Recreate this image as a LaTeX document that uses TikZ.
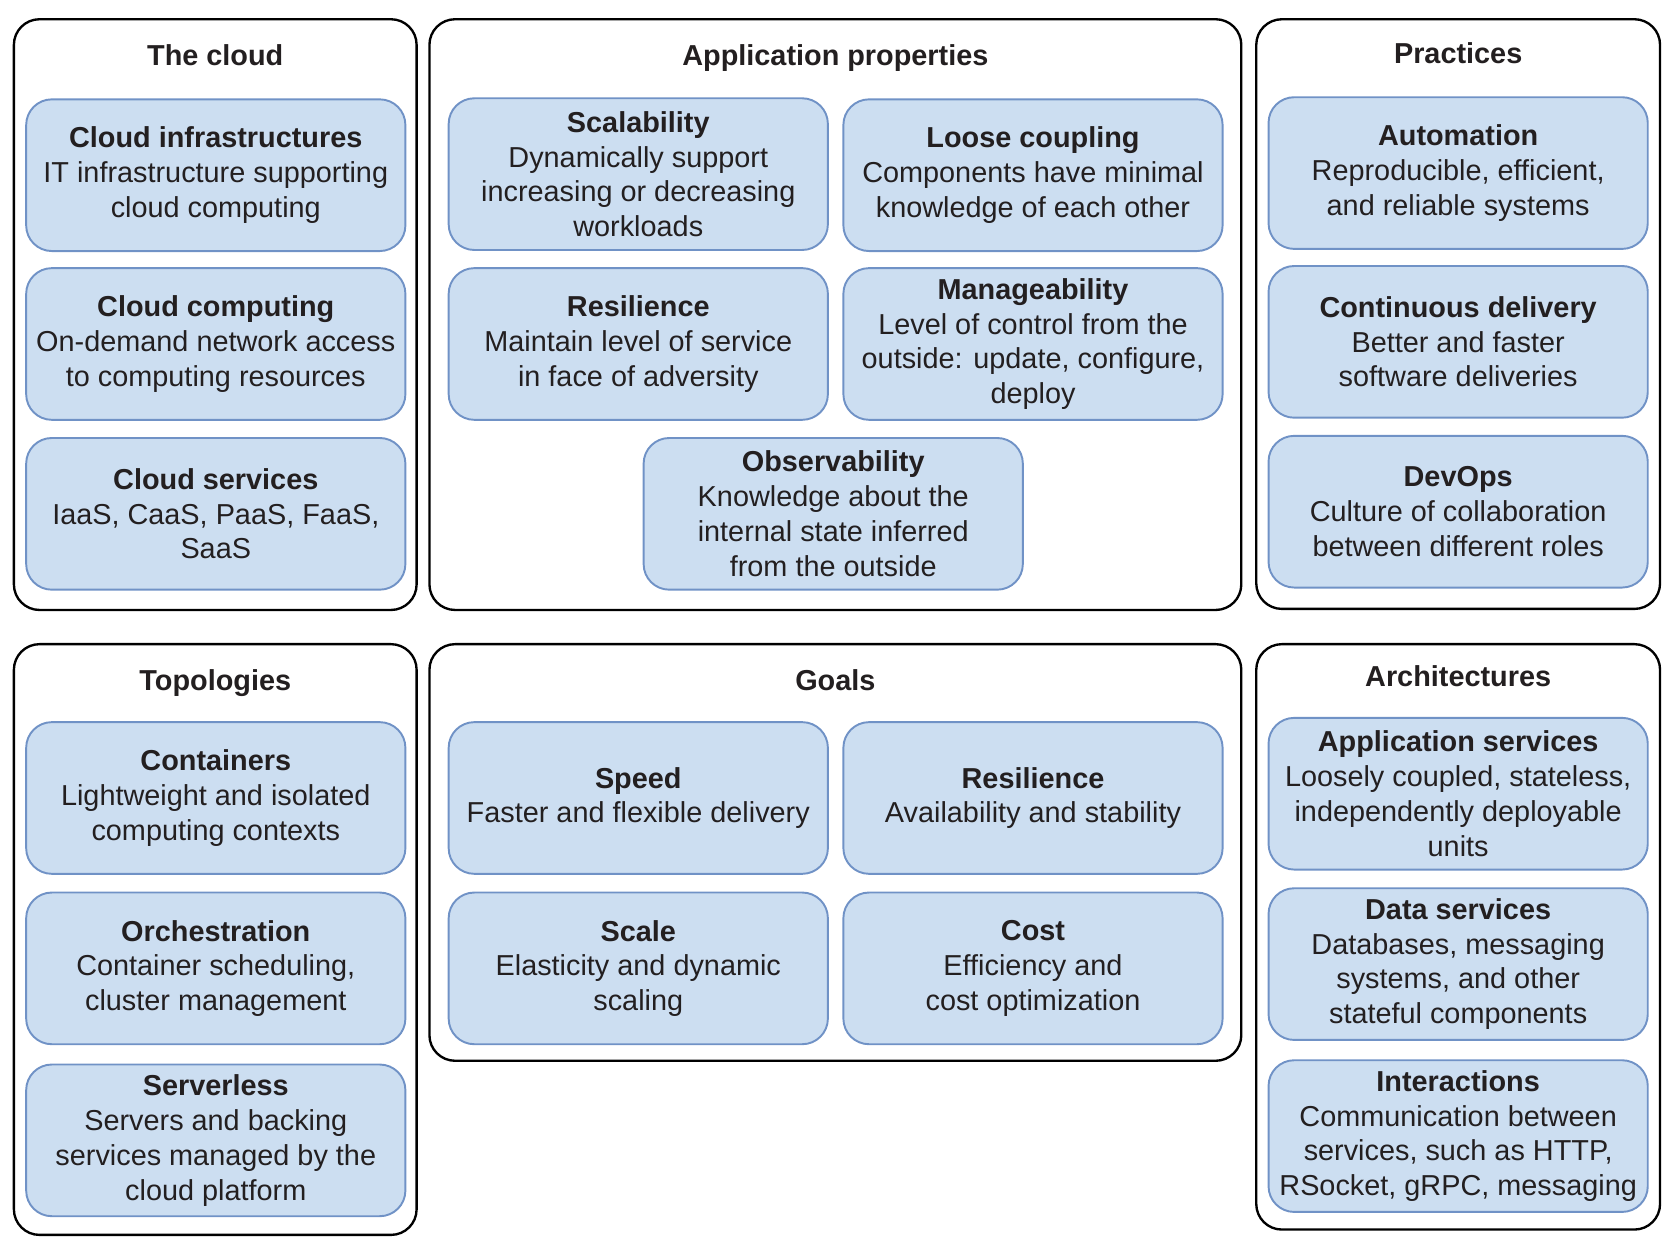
\documentclass[tikz,border=0pt]{standalone}
\usepackage{fontspec}
\setmainfont{Liberation Sans}
\definecolor{boxfill}{RGB}{204,222,241}
\definecolor{boxline}{RGB}{112,146,198}
\definecolor{ink}{RGB}{35,31,32}
\tikzset{
	panel/.style={draw=black, line width=1.1pt, rounded corners=12pt, inner sep=0pt},
	topic/.style={draw=boxline, fill=boxfill, line width=0.9pt, rounded corners=12pt,
		minimum width=177.5pt, minimum height=71pt, inner sep=1pt, align=center, text=ink},
	heading/.style={font=\fontsize{13.5}{16.5}\selectfont\bfseries, text=ink,
		text height=0.75em, text depth=0.22em}
}
\begin{document}
\begin{tikzpicture}[x=0.5pt, y=-0.5pt, font=\fontsize{13.5}{16.3}\selectfont]
		\useasboundingbox (0,0) rectangle (1568,1163);
		%panels
		\node[panel, minimum width=188.5pt, minimum height=276.5pt] (cloud) at (201.5,294.5){};
		\node[panel, minimum width=380pt, minimum height=276.5pt] (props) at (782,294.5){};
		\node[panel, minimum width=189pt, minimum height=276pt] (practices) at (1365,294){};
		\node[panel, minimum width=188.5pt, minimum height=276.5pt] (topologies) at (201.5,879.5){};
		\node[panel, minimum width=380pt, minimum height=195pt] (goals) at (782,798){};
		\node[panel, minimum width=189pt, minimum height=274pt] (archs) at (1365,877){};
		
		\node[heading] (cloudtitle) at (201.5,56){The cloud};
		\node[heading] (propstitle) at (782,56){Application properties};
		\node[heading] (practicestitle) at (1365,54){Practices};
		\node[heading] (topotitle) at (201.5,641){Topologies};
		\node[heading] (goalstitle) at (782,641){Goals};
		\node[heading] (archtitle) at (1365,637){Architectures};
		
		%the cloud
		\node[topic] (infra) at (202,164){\textbf{Cloud infrastructures}\\IT infrastructure supporting\\cloud computing};
		\node[topic] (computing) at (202,322){\textbf{Cloud computing}\\On-demand network access\\to computing resources};
		\node[topic] (services) at (202,481){\textbf{Cloud services}\\IaaS, CaaS, PaaS, FaaS,\\SaaS};
		
		%application properties
		\node[topic] (scalability) at (597.5,163){\textbf{Scalability}\\Dynamically support\\increasing or decreasing\\workloads};
		\node[topic] (coupling) at (967,164){\textbf{Loose coupling}\\Components have minimal\\knowledge of each other};
		\node[topic] (resilience) at (597.5,322){\textbf{Resilience}\\Maintain level of service\\in face of adversity};
		\node[topic] (manage) at (967,322){\textbf{Manageability}\\Level of control from the\\outside: update, configure,\\deploy};
		\node[topic] (observe) at (780,481){\textbf{Observability}\\Knowledge about the\\internal state inferred\\from the outside};
		
		%practices
		\node[topic] (automation) at (1365,162){\textbf{Automation}\\Reproducible, efficient,\\and reliable systems};
		\node[topic] (delivery) at (1365,320){\textbf{Continuous delivery}\\Better and faster\\software deliveries};
		\node[topic] (devops) at (1365,479){\textbf{DevOps}\\Culture of collaboration\\between different roles};
		
		%topologies
		\node[topic] (containers) at (202,747){\textbf{Containers}\\Lightweight and isolated\\computing contexts};
		\node[topic] (orchestration) at (202,906.5){\textbf{Orchestration}\\Container scheduling,\\cluster management};
		\node[topic] (serverless) at (202,1067.5){\textbf{Serverless}\\Servers and backing\\services managed by the\\cloud platform};
		
		%goals
		\node[topic] (speed) at (597.5,747){\textbf{Speed}\\Faster and flexible delivery};
		\node[topic] (goalres) at (967,747){\textbf{Resilience}\\Availability and stability};
		\node[topic] (scale) at (597.5,906.5){\textbf{Scale}\\Elasticity and dynamic\\scaling};
		\node[topic] (cost) at (967,906.5){\textbf{Cost}\\Efficiency and\\cost optimization};
		
		%architectures
		\node[topic] (appservices) at (1365,743){\textbf{Application services}\\Loosely coupled, stateless,\\independently deployable\\units};
		\node[topic] (dataservices) at (1365,902.5){\textbf{Data services}\\Databases, messaging\\systems, and other\\stateful components};
		\node[topic] (interactions) at (1365,1063.5){\textbf{Interactions}\\Communication between\\services, such as HTTP,\\RSocket, gRPC, messaging};
\end{tikzpicture}
\end{document}
